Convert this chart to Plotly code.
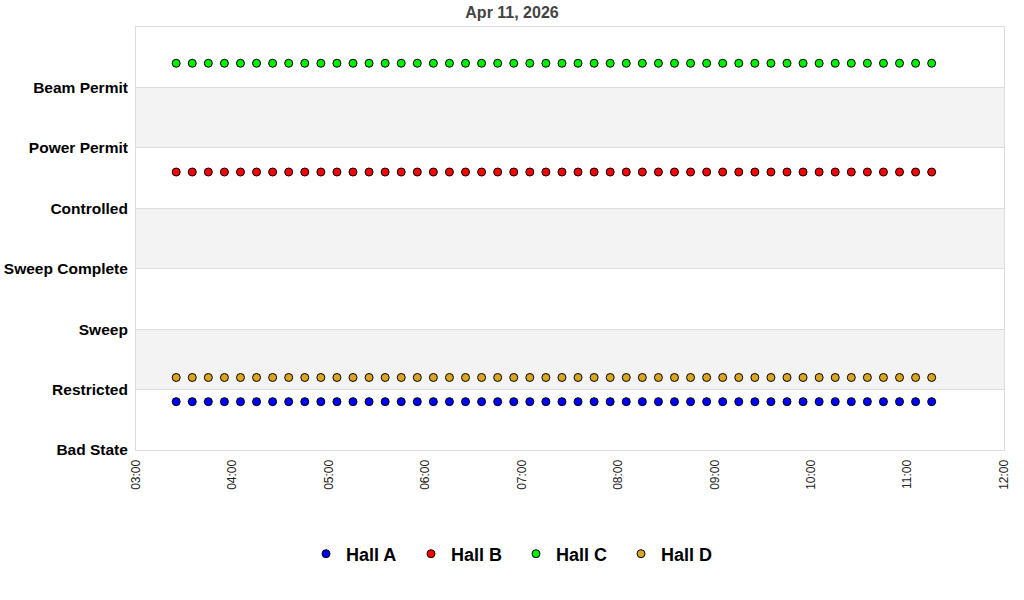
import plotly.graph_objects as go

date = "2026-04-11"
times = [
    "03:25", "03:35", "03:45", "03:55", "04:05", "04:15", "04:25", "04:35", "04:45", "04:55", "05:05", "05:15",
    "05:25", "05:35", "05:45", "05:55", "06:05", "06:15", "06:25", "06:35", "06:45", "06:55", "07:05", "07:15",
    "07:25", "07:35", "07:45", "07:55", "08:05", "08:15", "08:25", "08:35", "08:45", "08:55", "09:05", "09:15",
    "09:25", "09:35", "09:45", "09:55", "10:05", "10:15", "10:25", "10:35", "10:45", "10:55", "11:05", "11:15",
]
state_labels = ["Bad State", "Restricted", "Sweep", "Sweep Complete", "Controlled", "Power Permit", "Beam Permit"]
state_values = [0, 1, 2, 3, 4, 5, 6]

hall_names = ["Hall A", "Hall B", "Hall C", "Hall D"]
hall_colors = ["#0000ff", "#ff0000", "#00ee00", "#daa520"]

hall_a_values = [0.8, 0.8, 0.8, 0.8, 0.8, 0.8, 0.8, 0.8, 0.8, 0.8, 0.8, 0.8,
                 0.8, 0.8, 0.8, 0.8, 0.8, 0.8, 0.8, 0.8, 0.8, 0.8, 0.8, 0.8,
                 0.8, 0.8, 0.8, 0.8, 0.8, 0.8, 0.8, 0.8, 0.8, 0.8, 0.8, 0.8,
                 0.8, 0.8, 0.8, 0.8, 0.8, 0.8, 0.8, 0.8, 0.8, 0.8, 0.8, 0.8]
hall_b_values = [4.6, 4.6, 4.6, 4.6, 4.6, 4.6, 4.6, 4.6, 4.6, 4.6, 4.6, 4.6,
                 4.6, 4.6, 4.6, 4.6, 4.6, 4.6, 4.6, 4.6, 4.6, 4.6, 4.6, 4.6,
                 4.6, 4.6, 4.6, 4.6, 4.6, 4.6, 4.6, 4.6, 4.6, 4.6, 4.6, 4.6,
                 4.6, 4.6, 4.6, 4.6, 4.6, 4.6, 4.6, 4.6, 4.6, 4.6, 4.6, 4.6]
hall_c_values = [6.4, 6.4, 6.4, 6.4, 6.4, 6.4, 6.4, 6.4, 6.4, 6.4, 6.4, 6.4,
                 6.4, 6.4, 6.4, 6.4, 6.4, 6.4, 6.4, 6.4, 6.4, 6.4, 6.4, 6.4,
                 6.4, 6.4, 6.4, 6.4, 6.4, 6.4, 6.4, 6.4, 6.4, 6.4, 6.4, 6.4,
                 6.4, 6.4, 6.4, 6.4, 6.4, 6.4, 6.4, 6.4, 6.4, 6.4, 6.4, 6.4]
hall_d_values = [1.2, 1.2, 1.2, 1.2, 1.2, 1.2, 1.2, 1.2, 1.2, 1.2, 1.2, 1.2,
                 1.2, 1.2, 1.2, 1.2, 1.2, 1.2, 1.2, 1.2, 1.2, 1.2, 1.2, 1.2,
                 1.2, 1.2, 1.2, 1.2, 1.2, 1.2, 1.2, 1.2, 1.2, 1.2, 1.2, 1.2,
                 1.2, 1.2, 1.2, 1.2, 1.2, 1.2, 1.2, 1.2, 1.2, 1.2, 1.2, 1.2]
hall_values = [hall_a_values, hall_b_values, hall_c_values, hall_d_values]

x_start = "03:00"
x_end = "12:00"
shaded_bands = [(1, 2), (3, 4), (5, 6)]

xs = [f"{date} {t}:00" for t in times]

fig = go.Figure()
for name, color, vals in zip(hall_names, hall_colors, hall_values):
    fig.add_trace(go.Scatter(
        x=xs, y=vals, mode="markers", name=name,
        marker=dict(symbol="circle", size=8, color=color, line=dict(color="#000000", width=1)),
    ))

for y0, y1 in shaded_bands:
    fig.add_shape(type="rect", xref="paper", yref="y", x0=0, x1=1, y0=y0, y1=y1,
                  fillcolor="#f3f3f3", line=dict(width=0), layer="below")

fig.update_layout(
    width=1024, height=600,
    margin=dict(l=136, r=20, t=27, b=150),
    paper_bgcolor="#ffffff", plot_bgcolor="#ffffff",
    font=dict(family="Liberation Sans, Arial, sans-serif", color="#000000"),
    title=dict(text="<b>Apr 11, 2026</b>", x=0.5, xref="container", xanchor="center",
               y=1 - 12 / 600, yref="container", yanchor="middle",
               font=dict(size=16, color="#444444")),
    showlegend=True,
    legend=dict(orientation="h", xref="container", yref="container", x=0.5 + 4 / 1024, y=1 - 554 / 600,
                xanchor="center", yanchor="middle",
                font=dict(size=18, color="#000000", family="Liberation Sans, Arial, sans-serif", weight="bold"),
                itemsizing="trace", entrywidth=60, entrywidthmode="pixels", traceorder="normal"),
    xaxis=dict(type="date", range=[f"{date} {x_start}:00", f"{date} {x_end}:00"],
               dtick=3600000, tickformat="%H:%M", tickangle=-90,
               showgrid=False, zeroline=False, automargin=False,
               showline=True, linecolor="#dddddd", linewidth=1, mirror=True,
               ticks="", tickfont=dict(size=12, color="#222222"), ticklabelstandoff=4),
    yaxis=dict(range=[0, 7], tickvals=state_values, ticktext=[f"<b>{s}</b>" for s in state_labels],
               showgrid=True, gridcolor="#dddddd", gridwidth=1, zeroline=False, automargin=False,
               showline=True, linecolor="#dddddd", linewidth=1, mirror=True,
               ticks="", tickfont=dict(size=15.5, color="#000000"), ticklabelstandoff=4),
)

fig.write_html("out.html", config={"displayModeBar": False},
               post_script="document.body.style.margin='0';document.body.style.padding='0';")
